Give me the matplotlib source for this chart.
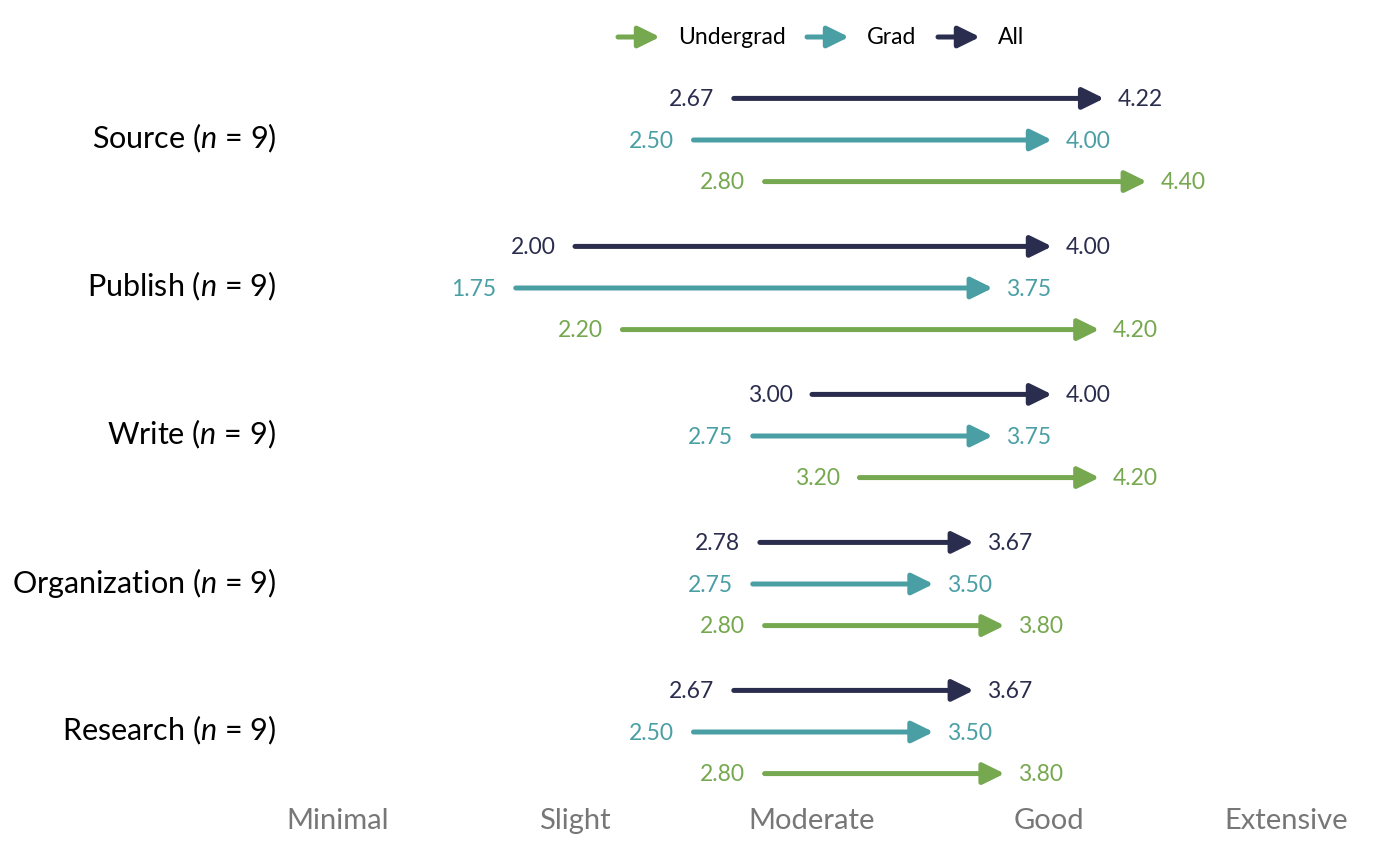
import numpy as np
import matplotlib.pyplot as plt
import matplotlib.transforms as mtransforms
from matplotlib.patches import FancyArrowPatch

plt.rcParams['font.family'] = ['Lato', 'DejaVu Sans']
plt.rcParams['mathtext.fontset'] = 'custom'
plt.rcParams['mathtext.rm'] = 'Lato'
plt.rcParams['mathtext.it'] = 'Lato:italic'

categories = ['Source', 'Publish', 'Write', 'Organization', 'Research']
n_sizes = [9, 9, 9, 9, 9]
groups = ['Undergrad', 'Grad', 'All']
colors = ['#76a84f', '#4a9fa5', '#2b2d4e']

# before / after values per group, in category order
pre = {
    'All':       [2.67, 2.00, 3.00, 2.78, 2.67],
    'Grad':      [2.50, 1.75, 2.75, 2.75, 2.50],
    'Undergrad': [2.80, 2.20, 3.20, 2.80, 2.80],
}
post = {
    'All':       [4.22, 4.00, 4.00, 3.67, 3.67],
    'Grad':      [4.00, 3.75, 3.75, 3.50, 3.50],
    'Undergrad': [4.40, 4.20, 4.20, 3.80, 3.80],
}
scale_labels = ['Minimal', 'Slight', 'Moderate', 'Good', 'Extensive']

offsets = {'All': -0.281, 'Grad': 0.0, 'Undergrad': 0.281}

fig = plt.figure(figsize=(14, 8.66), dpi=100)
ax = fig.add_axes([300 / 1400, 1 - 800 / 866, 1090 / 1400, 730 / 866])

# arrow tips poke a little past the value, like the original
tip_shift = ax.transData + mtransforms.ScaledTranslation(3 / 100, 0, fig.dpi_scale_trans)

arrow_style = '-|>,head_length=0.65,head_width=0.32'
for g, c in zip(groups, colors):
    for i in range(len(categories)):
        y = i + offsets[g]
        x0, x1 = pre[g][i], post[g][i]
        ax.annotate('', xy=(x1, y), xycoords=tip_shift, xytext=(x0, y), textcoords='data',
                    arrowprops=dict(arrowstyle=arrow_style, lw=3.6, color=c,
                                    mutation_scale=20, shrinkA=0, shrinkB=0,
                                    capstyle='round', joinstyle='round'))
        ax.annotate(f'{x0:.2f}', xy=(x0, y), xytext=(-14, -1), textcoords='offset points',
                    ha='right', va='center', fontsize=16.5, color=c)
        ax.annotate(f'{x1:.2f}', xy=(x1, y), xytext=(12, -1), textcoords='offset points',
                    ha='left', va='center', fontsize=16.5, color=c)

ax.set_xlim(1 - 38 / 237, 5 + 104 / 237)
ax.set_ylim(4 + 68 / 148, -70 / 148)
ax.set_xticks(np.arange(1, 6))
ax.set_xticklabels(scale_labels, fontsize=21, color='#777777')
ax.set_yticks(np.arange(len(categories)))
ax.set_yticklabels([f'{cat} ($\\mathit{{n}}$ = {n})' for cat, n in zip(categories, n_sizes)],
                   fontsize=22, color='black')
ax.tick_params(axis='both', length=0)
ax.tick_params(axis='y', pad=17)
ax.tick_params(axis='x', pad=6)
shift = mtransforms.ScaledTranslation(0, 5 / 100, fig.dpi_scale_trans)
for lab in ax.get_yticklabels():
    lab.set_transform(lab.get_transform() + shift)
for s in ax.spines.values():
    s.set_visible(False)

# legend drawn by hand at the top
leg_x = [618, 807, 938]
leg_y = 1 - 37 / 866
for g, c, lx in zip(groups, colors, leg_x):
    fig.patches.append(FancyArrowPatch(
        (lx / 1400, leg_y), ((lx + 42) / 1400, leg_y), transform=fig.transFigure,
        arrowstyle=arrow_style, mutation_scale=20, lw=3.6, color=c,
        shrinkA=0, shrinkB=0, capstyle='round', joinstyle='round'))
    fig.text((lx + 60) / 1400, leg_y, g, ha='left', va='center', fontsize=16.5, color='black')

fig.savefig('out.png', dpi=100, facecolor='white')
